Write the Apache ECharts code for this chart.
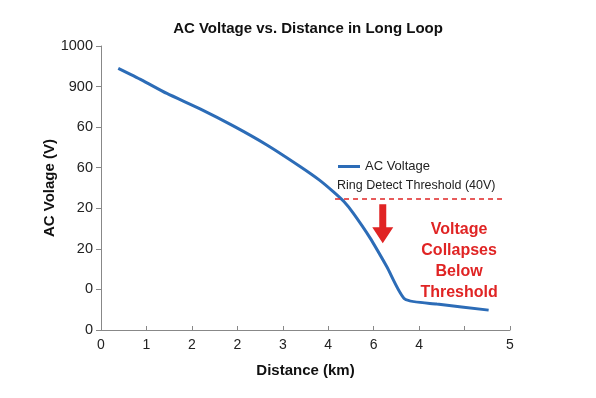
<!DOCTYPE html>
<html>
<head>
<meta charset="utf-8">
<script src="https://cdn.jsdelivr.net/npm/echarts@6/dist/echarts.min.js"></script>
<style>
  html, body { margin: 0; padding: 0; background: #fff; }
  #chart { width: 596px; height: 398px; }
</style>
</head>
<body>
<div id="chart"></div>
<script>
// tick labels as printed on the picture (positions are tick indexes)
const xTickLabels = ['0', '1', '2', '2', '3', '4', '6', '4', '', '5'];
const yTickLabels = ['0', '0', '20', '20', '60', '60', '900', '1000'];

// AC voltage curve in tick-index units
const distance = [0.38, 0.9, 1.45, 2.18, 2.91, 3.65, 4.38, 4.8, 5.11, 5.35, 5.55, 5.92, 6.29, 6.69, 7.39, 8.53];
const voltage  = [6.45, 6.16, 5.83, 5.45, 5.03, 4.56, 4.03, 3.7, 3.41, 3.16, 2.88, 2.27, 1.56, 0.76, 0.64, 0.49];

// ring detect threshold (40V) dashed line
const thresholdX = [5.15, 8.83];
const thresholdY = 3.23;

const chart = echarts.init(document.getElementById('chart'));
const font = 'Liberation Sans, Arial, sans-serif';

const option = {
    animation: false,
    title: {
        text: 'AC Voltage vs. Distance in Long Loop',
        left: 303,
        textAlign: 'center',
        top: 16,
        textStyle: { fontFamily: font, fontSize: 15, fontWeight: 'bold', color: '#111' }
    },
    legend: {
        data: ['AC Voltage'],
        left: 333,
        top: 155,
        itemWidth: 22,
        itemHeight: 3,
        itemGap: 6,
        icon: 'rect',
        textStyle: { fontFamily: font, fontSize: 13, color: '#222' }
    },
    grid: { left: 101, right: 86, top: 46, bottom: 68 },
    xAxis: {
        type: 'value',
        min: 0, max: 9, interval: 1,
        name: 'Distance (km)',
        nameLocation: 'middle',
        nameGap: 33,
        nameTextStyle: { fontFamily: font, fontSize: 15, fontWeight: 'bold', color: '#111' },
        axisLine: { lineStyle: { color: '#888', width: 1 } },
        axisTick: { inside: true, length: 4, lineStyle: { color: '#888' } },
        splitLine: { show: false },
        axisLabel: {
            fontFamily: font, fontSize: 14, color: '#222', margin: 8,
            formatter: v => xTickLabels[Math.round(v)]
        }
    },
    yAxis: {
        type: 'value',
        min: 0, max: 7, interval: 1,
        name: 'AC Volage (V)',
        nameLocation: 'middle',
        nameGap: 44,
        nameMoveOverlap: false,
        nameTextStyle: { fontFamily: font, fontSize: 15, fontWeight: 'bold', color: '#111' },
        axisLine: { show: true, lineStyle: { color: '#888', width: 1 } },
        axisTick: { show: true, length: 5, lineStyle: { color: '#888' } },
        splitLine: { show: false },
        axisLabel: {
            fontFamily: font, fontSize: 14.5, color: '#222', margin: 8,
            formatter: v => yTickLabels[Math.round(v)]
        }
    },
    series: [
        {
            name: 'AC Voltage',
            type: 'line',
            data: distance.map((d, i) => [d, voltage[i]]),
            showSymbol: false,
            smooth: 0.2,
            color: '#2c6cb7',
            lineStyle: { width: 3, color: '#2c6cb7' }
        },
        {
            name: 'Ring Detect Threshold (40V)',
            type: 'line',
            data: thresholdX.map(x => [x, thresholdY]),
            showSymbol: false,
            lineStyle: { width: 1.5, color: '#e02424', type: [5, 4] }
        }
    ]
};
chart.setOption(option);

// annotations placed through the chart's own scales
const p = (x, y) => chart.convertToPixel({ gridIndex: 0 }, [x, y]);
const legendRow = p(5.15, 3.55);
const arrowTop = p(6.2, 3.10);
const arrowNeck = p(6.2, 2.53);
const arrowTip = p(6.2, 2.14);
const noteCenter = p(7.88, 2.74);

chart.setOption({
    graphic: [
        {
            type: 'text',
            left: legendRow[0] + 2,
            top: legendRow[1] - 7,
            style: { text: 'Ring Detect Threshold (40V)', font: '12.5px ' + font, fill: '#222' }
        },
        {
            type: 'polygon',
            shape: {
                points: [
                    [arrowTop[0] - 3.5, arrowTop[1]],
                    [arrowTop[0] + 3.5, arrowTop[1]],
                    [arrowNeck[0] + 3.5, arrowNeck[1]],
                    [arrowNeck[0] + 10.5, arrowNeck[1]],
                    [arrowTip[0], arrowTip[1]],
                    [arrowNeck[0] - 10.5, arrowNeck[1]],
                    [arrowNeck[0] - 3.5, arrowNeck[1]]
                ]
            },
            style: { fill: '#e02424' }
        },
        {
            type: 'text',
            x: noteCenter[0],
            y: noteCenter[1],
            style: {
                text: 'Voltage\nCollapses\nBelow\nThreshold',
                font: 'bold 16px ' + font,
                fill: '#e02424',
                align: 'center',
                verticalAlign: 'top',
                lineHeight: 21
            }
        }
    ]
});
</script>
</body>
</html>
